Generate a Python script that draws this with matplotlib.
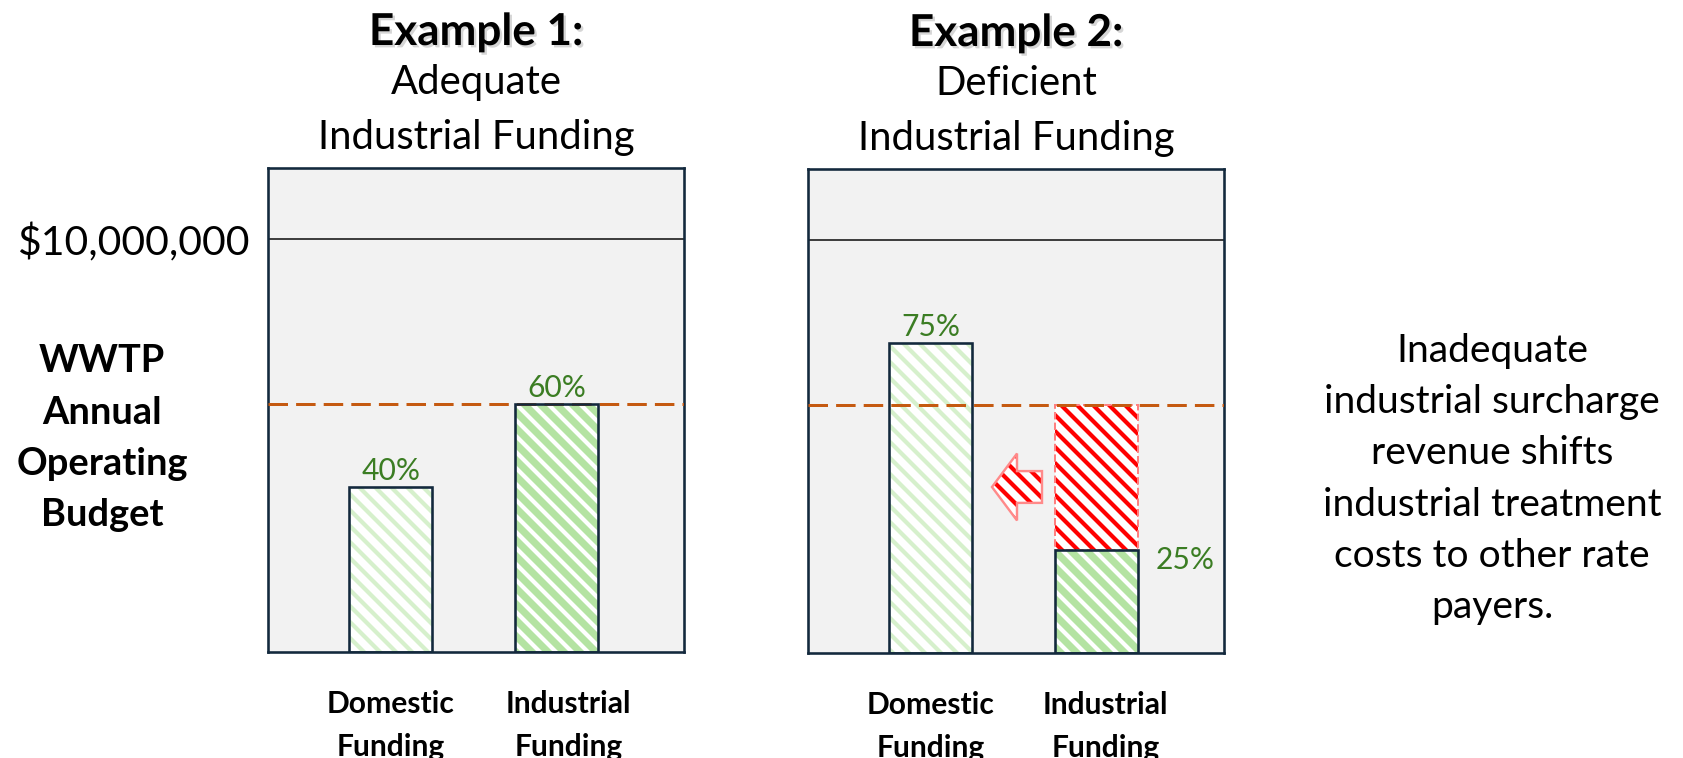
"""
WWTP budget: adequate vs deficient industrial funding
"""

import matplotlib.pyplot as plt
import matplotlib.patheffects as pe
from matplotlib.patches import FancyArrow
from matplotlib.transforms import ScaledTranslation

plt.rcParams['font.family'] = ['Lato', 'DejaVu Sans']
plt.rcParams['hatch.linewidth'] = 2.1

# 数据 (percent of the annual operating budget)
categories = ['Domestic\nFunding', 'Industrial\nFunding']
budget_label = '$10,000,000'
budget_pct = 100
industrial_need = 60          # dashed line: industrial share that should be collected
ex1_values = [40, 60]         # domestic, industrial
ex2_values = [75, 25]
panel_titles = ['Example 1:', 'Example 2:']
panel_subtitles = ['Adequate\nIndustrial Funding', 'Deficient\nIndustrial Funding']
ylabel_text = 'WWTP\nAnnual\nOperating\nBudget'
note_text = ('Inadequate\nindustrial surcharge\nrevenue shifts\n'
             'industrial treatment\ncosts to other rate\npayers.')

# colours
frame_c = '#13293d'
bg_c = '#f2f2f2'
light_green = '#d6f0cc'
green = '#b4e3a2'
text_green = '#3b7d23'
dash_c = '#c55a11'
red = '#ff0000'

DPI = 144
W, H = 1683, 758
fig = plt.figure(figsize=(W / DPI, H / DPI), dpi=DPI)

ax1 = fig.add_axes([268 / W, 106 / H, 416 / W, 484 / H])
ax2 = fig.add_axes([808 / W, 105 / H, 416 / W, 484 / H])

x = [0, 1]
bar_w = 0.5
hatch = '\\\\\\'
shadow = [pe.withSimplePatchShadow(offset=(1.2, -1.2), shadow_rgbFace='#999999', alpha=0.4)]


def draw_panel(ax, values, title, subtitle, label_shift):
    ax.set_facecolor(bg_c)
    # domestic bar: white with light green stripes
    ax.bar(x[0], values[0], bar_w, color='white', edgecolor=light_green,
           hatch=hatch, linewidth=0, zorder=2)
    # industrial bar: green with white stripes
    ax.bar(x[1], values[1], bar_w, color=green, edgecolor='white',
           hatch=hatch, linewidth=0, zorder=2)
    ax.bar(x, values, bar_w, fill=False, edgecolor=frame_c, linewidth=1.3, zorder=4)

    ax.axhline(budget_pct, color='#404040', linewidth=1, zorder=1)
    ax.axhline(industrial_need, color=dash_c, linewidth=1.5,
               linestyle=(0, (6.5, 2.7)), zorder=3)

    ax.set_xlim(-0.741, 1.771)
    ax.set_ylim(0, 117.2)
    ax.set_xticks(x, categories, fontsize=15, fontweight='bold', linespacing=1.67)
    ax.tick_params(axis='x', length=0, pad=19)
    lab = ax.get_xticklabels()[1]
    lab.set_transform(lab.get_transform() +
                      ScaledTranslation(label_shift / 72, 0, fig.dpi_scale_trans))
    for s in ax.spines.values():
        s.set_color(frame_c)
        s.set_linewidth(1.3)

    ax.text(0.5, 1.281, title, transform=ax.transAxes, ha='center', va='center',
            fontsize=22, fontweight='bold', path_effects=shadow)
    ax.text(0.5, 1.12, subtitle, transform=ax.transAxes, ha='center', va='center',
            fontsize=20, linespacing=1.6)


draw_panel(ax1, ex1_values, panel_titles[0], panel_subtitles[0], 6)
draw_panel(ax2, ex2_values, panel_titles[1], panel_subtitles[1], 4.5)

# percent labels
for i, v in enumerate(ex1_values):
    ax1.annotate(f'{v}%', (x[i], v), xytext=(0, 3.5), textcoords='offset points',
                 ha='center', va='baseline', fontsize=15, color=text_green)
ax2.annotate(f'{ex2_values[0]}%', (x[0], ex2_values[0]), xytext=(0, 3.5),
             textcoords='offset points', ha='center', va='baseline',
             fontsize=15, color=text_green)
ax2.annotate(f'{ex2_values[1]}%', (x[1] + bar_w / 2, ex2_values[1]), xytext=(9, -5),
             textcoords='offset points', ha='left', va='center',
             fontsize=15, color=text_green)

# shortfall on the industrial bar (red hatched)
gap = industrial_need - ex2_values[1]
ax2.bar(x[1], gap, bar_w, bottom=ex2_values[1], color='white', edgecolor=red,
        hatch=hatch, linewidth=0, zorder=2)
ax2.bar(x[1], gap, bar_w, bottom=ex2_values[1], fill=False, edgecolor='#ff8080',
        linewidth=1, linestyle='--', zorder=2.5)

# arrow: shortfall shifted onto domestic payers
y_mid = ex2_values[1] + gap / 2 - 2.3
tail, tip = 0.672, 0.370
arrow_kw = dict(width=7.7, head_width=16.2, head_length=0.151, length_includes_head=True)
ax2.add_patch(FancyArrow(tail, y_mid, tip - tail, 0, facecolor='white', edgecolor=red,
                         hatch=hatch, linewidth=0, zorder=2, **arrow_kw))
ax2.add_patch(FancyArrow(tail, y_mid, tip - tail, 0, fill=False, edgecolor='#ff8a8a',
                         linewidth=1.2, zorder=2.5, **arrow_kw))

# y axis: only the budget level on the left panel
ax1.set_yticks([budget_pct], [budget_label], fontsize=20.5)
ax1.tick_params(axis='y', length=0, pad=9)
ax2.set_yticks([])

ax1.text(-0.399, 0.442, ylabel_text, transform=ax1.transAxes, ha='center', va='center',
         fontsize=19, fontweight='bold', linespacing=1.61)

fig.text(1492 / W, 1 - 479 / H, note_text, ha='center', va='center',
         fontsize=19.5, linespacing=1.53)

fig.savefig('out.png', dpi=DPI)
